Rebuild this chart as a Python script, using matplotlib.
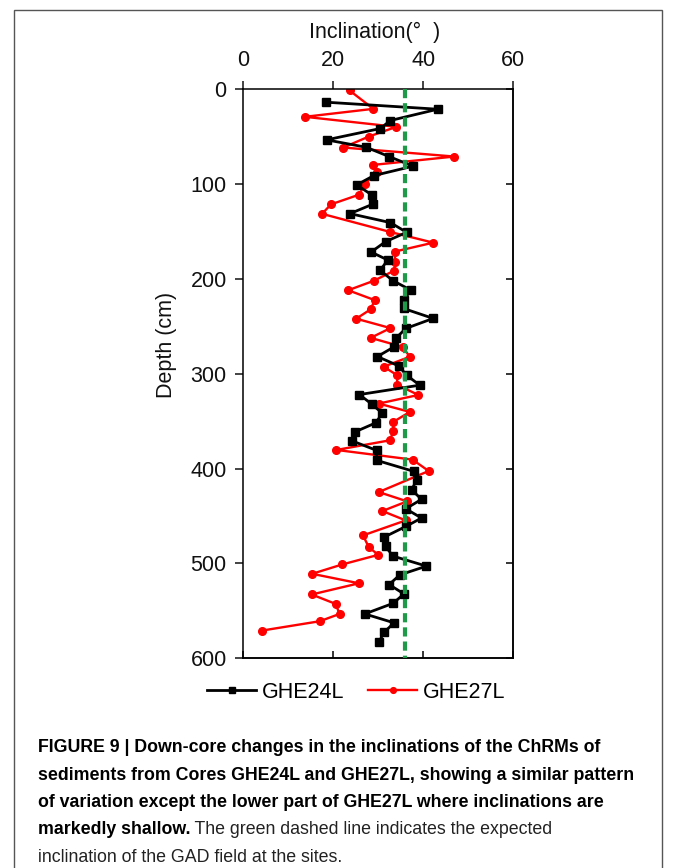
import matplotlib
matplotlib.use('Agg')
import matplotlib.pyplot as plt
from matplotlib import font_manager
from matplotlib.ticker import NullFormatter
from matplotlib.patches import Rectangle

# GHE24L core: depth (cm) and inclination (deg)
depth_24 = [13.6, 21.0, 32.9, 41.4, 53.3, 61.1, 70.9, 81.1, 91.0, 100.8,
            111.8, 120.9, 131.1, 140.6, 150.8, 160.7, 171.6, 180.0, 191.0, 201.9,
            211.7, 222.3, 231.1, 241.6, 252.2, 262.1, 271.6, 281.8, 291.6, 301.5,
            312.0, 321.9, 331.8, 341.6, 351.8, 361.3, 370.8, 380.7, 391.2, 402.9,
            412.4, 422.2, 432.4, 442.3, 452.1, 461.0, 472.2, 482.1, 492.3, 502.8,
            512.0, 522.2, 532.1, 542.0, 553.2, 562.6, 572.5, 583.1]
inc_24 = [18.4, 43.2, 32.7, 30.4, 18.5, 27.3, 32.4, 37.7, 29.0, 25.2,
          28.7, 28.9, 23.7, 32.7, 36.3, 31.6, 28.4, 32.1, 30.4, 33.3,
          37.2, 35.7, 35.6, 42.2, 36.1, 34.0, 33.5, 29.8, 34.5, 36.3,
          39.2, 25.8, 28.5, 30.9, 29.4, 24.8, 24.2, 29.6, 29.6, 37.9,
          38.5, 37.4, 39.6, 36.1, 39.6, 36.1, 31.3, 31.6, 33.3, 40.7,
          34.8, 32.4, 35.7, 33.3, 27.0, 33.5, 31.3, 30.1]

# GHE27L core
depth_27 = [1.2, 20.6, 29.0, 39.6, 49.8, 61.4, 70.9, 79.7, 87.5, 99.5,
            111.0, 121.3, 131.3, 150.5, 161.7, 171.2, 181.8, 191.3, 201.9, 211.9,
            222.3, 232.0, 241.9, 251.8, 262.1, 271.6, 282.0, 292.5, 301.5, 311.6,
            322.3, 331.4, 340.2, 350.8, 360.7, 370.1, 380.3, 390.5, 402.5, 424.7,
            434.5, 444.7, 454.6, 470.4, 482.9, 490.9, 501.0, 510.9, 520.9, 532.7,
            542.6, 553.2, 560.9, 570.8]
inc_27 = [23.6, 28.9, 13.7, 34.0, 27.9, 22.2, 46.9, 28.9, 29.8, 27.0,
          25.8, 19.5, 17.5, 32.7, 42.2, 33.6, 33.8, 33.5, 29.0, 23.3,
          29.2, 28.3, 25.1, 32.7, 28.3, 35.4, 37.0, 31.2, 34.2, 34.2,
          38.9, 30.1, 37.0, 33.3, 33.3, 32.6, 20.7, 37.6, 41.2, 30.1,
          36.4, 30.9, 36.1, 26.6, 27.9, 30.0, 22.0, 15.3, 25.7, 15.2,
          20.5, 21.4, 17.0, 4.1]

gad_inc = 36
x_ticks = [0, 20, 40, 60]
y_ticks = [0, 100, 200, 300, 400, 500, 600]
series_labels = ['GHE24L', 'GHE27L']

caption_bold = ['FIGURE 9 | Down-core changes in the inclinations of the ChRMs of',
                'sediments from Cores GHE24L and GHE27L, showing a similar pattern',
                'of variation except the lower part of GHE27L where inclinations are',
                'markedly shallow.']
caption_plain = [' The green dashed line indicates the expected',
                 'inclination of the GAD field at the sites.']

W, H = 673, 868
installed = {f.name for f in font_manager.fontManager.ttflist}
plt.rcParams['font.family'] = ['Liberation Sans', 'DejaVu Sans']
cap_font = 'Liberation Sans Narrow' if 'Liberation Sans Narrow' in installed else 'Liberation Sans'

fig = plt.figure(figsize=(W / 100, H / 100), dpi=100)
fig.patches.append(Rectangle((14 / W, -0.05), 648 / W, 1.05 - 10 / H, transform=fig.transFigure,
                             fill=False, edgecolor='#555555', lw=1))

ax = fig.add_axes([243.3 / W, (H - 658.3) / H, 270 / W, 569 / H])
ax.plot(inc_27, depth_27, color='#ff0000', lw=1.7, marker='o', ms=5.5, label=series_labels[1], zorder=2)
ax.plot(inc_24, depth_24, color='black', lw=2.0, marker='s', ms=5.8, label=series_labels[0], zorder=3)
ax.plot([gad_inc, gad_inc], [0, 600], color='#1f9a48', lw=3, dashes=(2.2, 1.2), zorder=4)

ax.set_xlim(0, 60)
ax.set_ylim(600, 0)
ax.set_xticks(x_ticks)
ax.set_yticks(y_ticks)
ax.xaxis.tick_top()
ax.yaxis.tick_left()
ax.tick_params(axis='both', direction='out', length=6, width=1.1, labelsize=15.5, colors='#111111')
ax.tick_params(axis='x', pad=7)
ax.tick_params(axis='y', pad=6)
for sp in ax.spines.values():
    sp.set_linewidth(1.1)

sx = ax.secondary_xaxis('bottom')
sx.set_xticks(x_ticks)
sx.xaxis.set_major_formatter(NullFormatter())
sx.tick_params(direction='in', length=5, width=1.1)
sx.spines['bottom'].set_linewidth(1.1)
sy = ax.secondary_yaxis('right')
sy.set_yticks(y_ticks)
sy.yaxis.set_major_formatter(NullFormatter())
sy.tick_params(direction='in', length=5, width=1.1)
sy.spines['right'].set_linewidth(1.1)

ax.xaxis.set_label_position('top')
ax.set_xlabel('Inclination(°  )', fontsize=15.5, color='#111111')
ax.xaxis.set_label_coords(0.488, 1.09)
ax.set_ylabel('Depth (cm)', fontsize=15.5, color='#111111')
ax.yaxis.set_label_coords(-0.245, 0.55)

handles, labels = ax.get_legend_handles_labels()
fig.legend(handles[::-1], labels[::-1], loc='center', ncol=2, frameon=False,
           bbox_to_anchor=(356 / W, (H - 692) / H), fontsize=15.5,
           handlelength=2.3, handletextpad=0.25, columnspacing=1.1, markerscale=0.75)

# caption, sized to the width of the reference lines
r = fig.canvas.get_renderer()
probe = fig.text(0, 0, caption_bold[1], fontsize=10, fontweight='bold', family=cap_font)
cap_size = 10 * 595 / probe.get_window_extent(r).width
probe.remove()

base = [752, 779.5, 807, 834.5, 861.5]
x0 = 38 / W
for i, line in enumerate(caption_bold):
    t = fig.text(x0, 1 - base[i] / H, line, fontsize=cap_size, fontweight='bold',
                 family=cap_font, va='baseline', color='black')
bb = t.get_window_extent(r)
fig.text(bb.x1 / W, 1 - base[3] / H, caption_plain[0], fontsize=cap_size,
         family=cap_font, va='baseline', color='#222222')
fig.text(x0, 1 - base[4] / H, caption_plain[1], fontsize=cap_size,
         family=cap_font, va='baseline', color='#222222')

fig.savefig('out.png', dpi=100)
